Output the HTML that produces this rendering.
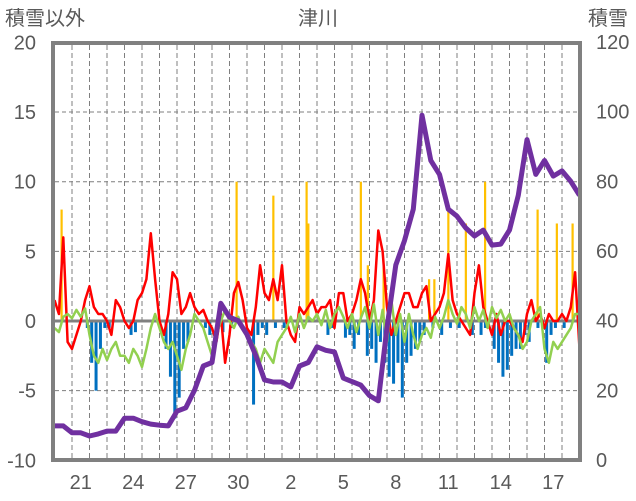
<!DOCTYPE html>
<html><head><meta charset="utf-8">
<style>
html,body{margin:0;padding:0;background:#fff;width:636px;height:501px;overflow:hidden}
svg text{font-family:"Liberation Sans","Noto Sans CJK JP",sans-serif;fill:#595959}
</style></head>
<body>
<svg id="chart" width="636" height="501" viewBox="0 0 636 501" xmlns="http://www.w3.org/2000/svg">
<text x="5" y="25" font-size="20">積雪以外</text>
<text x="318" y="25" font-size="20" text-anchor="middle">津川</text>
<text x="588" y="25" font-size="20">積雪</text>
<g id="grid"></g>
<g id="marks"></g>
<rect x="53" y="43" width="527" height="417" fill="none" stroke="#808080" stroke-width="4"/>
<g id="axes"></g>
</svg>
<script>
const leftTicks=[-10,-5,0,5,10,15,20];
const rightTicks=[0,20,40,60,80,100,120];
const dateLabels=["21","24","27","30","2","5","8","11","14","17"];
const dateIndex=[1,4,7,10,13,16,19,22,25,28];
const orangeT=[0.4,10.4,12.5,14.4,14.5,17.5,17.9,18.8,21.4,21.7,22.5,23.5,24.6,27.6,28.7,29.6];
const orangeV=[8,10,9,10,7,10,4,4,3,3,8,7,10,8,7,7];
const redV=[1.5,0.5,6,-1.5,-2,-1,0,1.5,2.5,1,0.5,0.5,0,-1,1.5,1,0,-0.5,0,1.5,2,3,6.3,3,0,-1,0.5,3.5,3,0.5,1,2,1,0.5,0.8,0,-0.5,-1.5,0.5,-3,-1,2,2.8,1.5,-0.5,-1,1,4,2,1.5,3,1.5,4,0,-1,-1.5,1,0.5,1,1.5,0.5,1,1,1.5,-0.5,2,2,0,0.5,1.5,3,2,0,1.5,6.5,5,1,-1,0,1,2,2,1,1,2,2.5,0,0.5,1,2,4.8,1.5,0.5,0,-0.5,-1,2,4,1,0,-1,0.5,-1,0,0,-0.5,-1,-1.5,0.5,1.5,0,0.5,-0.5,0.5,0,0,0.5,0,1,3.5,-2];
const greenV=[-0.5,-0.8,0.3,0.5,0.2,0.8,0.3,0.9,-1,-2.5,-3,-2,-2.8,-2,-1.5,-2.5,-2.5,-3,-2,-2.5,-3.3,-2,-0.5,0.5,-0.5,-1.5,-2,-1.5,-2.5,-3.5,-2,-1,0.5,0,-0.5,-1.5,-2.5,-1,0,0.8,0,-0.5,0.3,-0.5,-1,-1.5,-2,-3,-2,-2.5,-3,-1.5,-1,-0.5,0.3,-0.8,0.5,-0.5,0.3,0,0.5,-0.3,0.8,-0.5,0.5,1,0.3,-0.5,0.5,-0.8,0.2,1,-0.5,1.2,-1,0.8,-1.5,1.5,-1,0.5,-1.5,0.5,-1,-2,-1,-0.5,-1.2,0.3,-0.5,0.3,1.5,0.5,-0.2,1,0.5,-0.5,1,0,0.8,-0.5,1,0.2,0.8,0,0.5,-0.5,-1,-2,-1.5,0,0.5,1,-2,-3,-1.5,-2,-1.5,-1,-0.5,0.5,0.5];
const blueV=[0,0,0,0,0,0,0,-0.5,-3,-5,-2,-0.5,-0.5,0,0,0,0,-1,-0.8,0,0,0,0,0,0,-2,-4,-7,-5.5,-2,-1.5,0,0,0,-0.5,-1,0,0,-0.8,0,-0.5,0,0,0,0,-6,-1,-0.5,-1,0,-0.5,0,-0.5,0,0,-0.5,0,0,0,0,0,0,-1,-0.5,0,0,-1.2,-1,-2,-1,0,-2.5,-2,-3,-1.5,-3,-4,-4.5,-3,-5.5,-3,-2.5,-2,-1.5,-1,0,-0.5,0,-1,0,-0.5,0,-0.5,0,0,-1,0,-1,-0.5,0,-2,-3,-4,-3.5,-2.5,-2,-2,-1,-1.5,0,-0.5,0,-3,-1,-0.5,0,-0.5,0,0,0];
const snowV=[9.8,9.8,7.8,7.8,6.9,7.5,8.3,8.3,12,12,11,10.3,10,9.8,14,15,20,27,28,45,41,40,36,30,23,22.4,22.4,21,27,28,32.5,31.5,31,23.5,22.5,21.5,18.5,17,38,56,63,72,99,86,82,72,70,66.6,64.3,66,61.7,62,66,76,92,82,86,81.5,83,80,76];

const NS='http://www.w3.org/2000/svg';
const X0=54.5,DAY=17.5,DAYS=30;
const xs=t=>X0+t*DAY;
const yl=v=>321-v*13.93;
const yr=s=>460-s*3.483;
function mk(tag,attrs,parent){const e=document.createElementNS(NS,tag);for(const k in attrs)e.setAttribute(k,attrs[k]);parent.appendChild(e);return e;}
const grid=document.getElementById('grid'),marks=document.getElementById('marks'),axes=document.getElementById('axes');

[15,10,5,-5].forEach(v=>{const l=mk('line',{x1:55,x2:579,y1:yl(v),y2:yl(v),stroke:'#7f7f7f','stroke-width':1,'stroke-dasharray':'4,3'},grid);

});
for(let d=1;d<DAYS;d++){const l=mk('line',{x1:xs(d),x2:xs(d),y1:45,y2:459,stroke:'#7f7f7f','stroke-width':1,'stroke-dasharray':'5,3'},grid);

}

const bstep=DAYS/blueV.length;
blueV.forEach((v,i)=>{if(v===0)return;const t=(i+0.5)*bstep;const r=mk('rect',{x:xs(t)-1.5,y:yl(0),width:3,height:yl(v)-yl(0),fill:'#0070c0'},marks);

});
orangeT.forEach((t,i)=>{const r=mk('rect',{x:xs(t)-1,y:yl(orangeV[i]),width:2.2,height:yl(0)-yl(orangeV[i]),fill:'#ffc000'},marks);

});
const z=mk('line',{x1:55,x2:579,y1:yl(0),y2:yl(0),stroke:'#808080','stroke-width':3},marks);


function series(arr,yf,color,w,name){const n=arr.length-1;const pts=arr.map((v,i)=>xs(i*DAYS/n).toFixed(1)+','+yf(v).toFixed(1)).join(' ');
const p=mk('polyline',{points:pts,fill:'none',stroke:color,'stroke-width':w,'stroke-linejoin':'round'},marks);

}
series(redV,yl,'#ff0000',2.5,'red-line');
series(greenV,yl,'#92d050',2.5,'green-line');
series(snowV,yr,'#7030a0',5,'snow-depth-line');

leftTicks.forEach(v=>{const t=mk('text',{x:36,y:yl(v)+7,'font-size':20,'text-anchor':'end'},axes);t.textContent=v;

});
rightTicks.forEach(v=>{const t=mk('text',{x:596,y:yr(v)+7,'font-size':20},axes);t.textContent=v;

});
dateLabels.forEach((s,i)=>{const t=mk('text',{x:xs(dateIndex[i]+0.5),y:489,'font-size':20,'text-anchor':'middle'},axes);t.textContent=s;

});
</script>
</body></html>
